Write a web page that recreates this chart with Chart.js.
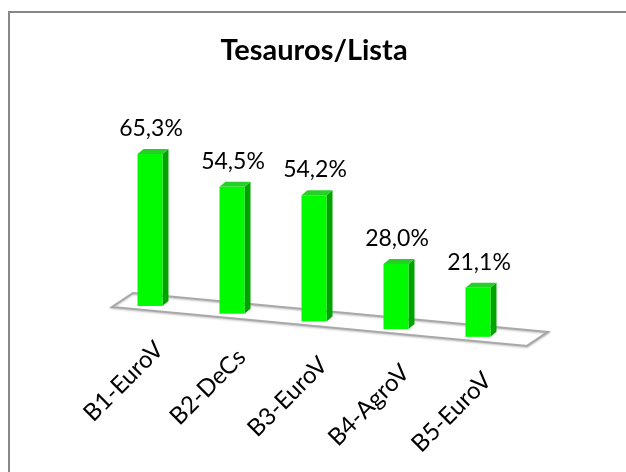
<!DOCTYPE html>
<html>
<head>
<meta charset="utf-8">
<script src="https://cdn.jsdelivr.net/npm/chart.js@4"></script>
<style>
  html, body { margin: 0; padding: 0; background: #fff; }
  #wrap { position: relative; width: 626px; height: 472px; }
  #frame { position: absolute; left: 8px; top: 11px; right: 0; bottom: 0;
           border-left: 2px solid #888; border-top: 2px solid #888; pointer-events: none; }
</style>
</head>
<body>
<div id="wrap">
  <canvas id="chart" width="626" height="472"></canvas>
  <div id="frame"></div>
</div>
<script>
const categories = ["B1-EuroV", "B2-DeCs", "B3-EuroV", "B4-AgroV", "B5-EuroV"];
const values = [65.3, 54.5, 54.2, 28.0, 21.1];
const chartTitle = "Tesauros/Lista";

const FONT = "Lato, 'Open Sans', sans-serif";
const floorSlope = 0.094;   // floor drops to the right (perspective)
const depthX = 6, depthY = -5;

function baseShift(chart, x) {
    let first = chart.getDatasetMeta(0).data[0];
    return (x - first.x) * floorSlope;
}

function fmt(v) {
    return v.toFixed(1).replace(".", ",") + "%";
}

const bars3d = {
    id: "bars3d",
    beforeDatasetsDraw(chart) {
        const ctx = chart.ctx;
        const pts = chart.getDatasetMeta(0).data;
        const yz = chart.scales.y.getPixelForValue(0);
        let lx = pts[0].x - 38, rx = pts[pts.length - 1].x + 49;
        let ly = yz + baseShift(chart, lx) + 4.5, ry = yz + baseShift(chart, rx) + 4.5;
        ctx.save();
        ctx.beginPath();
        ctx.moveTo(lx, ly);
        ctx.lineTo(rx, ry);
        ctx.lineTo(rx + 21, ry - 14);
        ctx.lineTo(lx + 21, ly - 14);
        ctx.closePath();
        ctx.fillStyle = "#fff";
        ctx.fill();
        ctx.shadowColor = "rgba(0,0,0,0.25)";
        ctx.shadowBlur = 2;
        ctx.shadowOffsetY = 1;
        ctx.strokeStyle = "#a8a8a8";
        ctx.lineWidth = 2;
        ctx.stroke();
        ctx.restore();
    },
    afterDatasetsDraw(chart) {
        const ctx = chart.ctx;
        const pts = chart.getDatasetMeta(0).data;
        const yz = chart.scales.y.getPixelForValue(0);
        ctx.save();
        pts.forEach((el, i) => {
            let dy = baseShift(chart, el.x);
            let l = el.x - el.width / 2, r = el.x + el.width / 2;
            let top = el.y + dy, bottom = el.base + dy;

            // side face
            ctx.fillStyle = "#00a300";
            ctx.beginPath();
            ctx.moveTo(r, top);
            ctx.lineTo(r + depthX, top + depthY);
            ctx.lineTo(r + depthX, bottom + depthY);
            ctx.lineTo(r, bottom);
            ctx.closePath();
            ctx.fill();

            // top face
            ctx.fillStyle = "#27d027";
            ctx.beginPath();
            ctx.moveTo(l, top);
            ctx.lineTo(l + depthX, top + depthY);
            ctx.lineTo(r + depthX, top + depthY);
            ctx.lineTo(r, top);
            ctx.closePath();
            ctx.fill();

            // front face
            ctx.fillStyle = "#00fa00";
            ctx.fillRect(l, top, el.width, bottom - top);

            // value label
            ctx.fillStyle = "#000";
            ctx.font = "23px " + FONT;
            ctx.textAlign = "center";
            ctx.textBaseline = "alphabetic";
            ctx.fillText(fmt(values[i]), el.x + 1, top - 18);

            // category label, slanted with the floor
            ctx.save();
            ctx.font = "24px " + FONT;
            ctx.translate(el.x + 15, yz + dy + 45);
            ctx.rotate(-Math.PI / 4);
            ctx.textAlign = "right";
            ctx.fillText(chart.data.labels[i], 0, 0);
            ctx.restore();
        });
        ctx.restore();
    }
};

new Chart(document.getElementById("chart"), {
    type: "bar",
    data: {
        labels: categories,
        datasets: [{
            data: values,
            backgroundColor: "rgba(0,0,0,0)",
            barPercentage: 0.305,
            categoryPercentage: 1
        }]
    },
    options: {
        responsive: false,
        animation: false,
        layout: { padding: { left: 109, right: 107, top: 0, bottom: 166 } },
        scales: {
            x: { display: false },
            y: { display: false, min: 0, max: 80 }
        },
        plugins: {
            legend: { display: false },
            tooltip: { enabled: false },
            title: {
                display: true,
                text: chartTitle,
                color: "#000",
                font: { family: FONT, size: 29, weight: "bold" },
                padding: { top: 33, bottom: 52 }
            }
        }
    },
    plugins: [bars3d]
});
</script>
</body>
</html>
